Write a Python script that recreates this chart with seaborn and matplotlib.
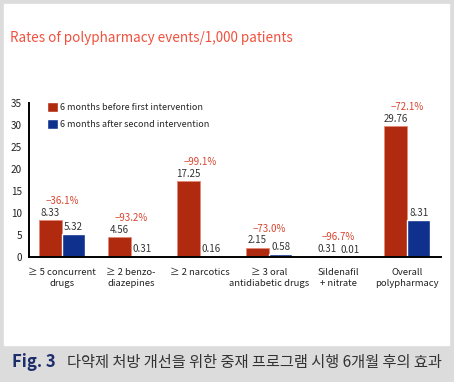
import numpy as np
import pandas as pd
import matplotlib.pyplot as plt
import seaborn as sns
from matplotlib.patches import Rectangle, Patch

# Data
categories = ["≥ 5 concurrent\ndrugs", "≥ 2 benzo-\ndiazepines", "≥ 2 narcotics",
              "≥ 3 oral\nantidiabetic drugs", "Sildenafil\n+ nitrate", "Overall\npolypharmacy"]
before = [8.33, 4.56, 17.25, 2.15, 0.31, 29.76]
after = [5.32, 0.31, 0.16, 0.58, 0.01, 8.31]
changes = ["−36.1%", "−93.2%", "−99.1%", "−73.0%", "−96.7%", "−72.1%"]
periods = ["6 months before first intervention", "6 months after second intervention"]
colors = ["#b02a10", "#10308e"]

df = pd.DataFrame({
    "category": categories * 2,
    "rate": before + after,
    "period": [periods[0]] * len(categories) + [periods[1]] * len(categories),
})

sns.set_style("white")
plt.rcParams["font.family"] = ["Noto Sans CJK KR", "DejaVu Sans"]

W, H = 454, 382
fig = plt.figure(figsize=(W / 100, H / 100), dpi=100, facecolor="#dcdcdc")
fig.patches.append(Rectangle((4 / W, 1 - 345 / H), 445 / W, 341 / H,
                             transform=fig.transFigure, color="white", zorder=-5))

ax = fig.add_axes([29 / W, (H - 257) / H, (441 - 29) / W, (257 - 103) / H])
ax.set_facecolor("none")
sns.barplot(data=df, x="category", y="rate", hue="period", order=categories,
            hue_order=periods, palette=colors, width=0.667, saturation=1,
            legend=False, ax=ax)

# thin light rim on the red bars, as in the original
for bar in ax.containers[0]:
    bar.set_edgecolor("#e58a78")
    bar.set_linewidth(0.6)

for cont, vals in zip(ax.containers, [before, after]):
    ax.bar_label(cont, labels=[f"{v:.2f}" for v in vals], padding=1.5,
                 fontsize=7, color="#333333")
for i, (b, c) in enumerate(zip(before, changes)):
    ax.text(i, b + 4.3, c, ha="center", va="center", fontsize=7,
            style="italic", color="#d8452f")

ax.set_ylim(0, 35)
ax.set_xlim(-0.478, 5.49)
ax.set_yticks(range(0, 36, 5))
ax.tick_params(axis="y", length=0, labelsize=7.2, colors="#222222", pad=5)
ax.tick_params(axis="x", length=0, labelsize=6.8, colors="#222222", pad=8)
ax.set_xlabel("")
ax.set_ylabel("")
for s in ["top", "right"]:
    ax.spines[s].set_visible(False)
for s in ["left", "bottom"]:
    ax.spines[s].set_color("black")
    ax.spines[s].set_linewidth(1.4)

handles = [Patch(facecolor=c) for c in colors]
ax.legend(handles, periods, loc="upper left", bbox_to_anchor=(47 / W, 1 - 102 / H),
          bbox_transform=fig.transFigure, frameon=False, fontsize=6.5,
          handlelength=1.25, handleheight=1.25, handletextpad=0.2,
          labelspacing=0.8, borderpad=0, borderaxespad=0)

fig.text(10 / W, 1 - 38 / H, "Rates of polypharmacy events/1,000 patients",
         color="#f0503c", fontsize=9.7, va="center")
fig.text(12 / W, 1 - 362 / H, "Fig. 3", color="#1e2d6b", fontsize=12,
         fontweight="bold", va="center")
fig.text(67 / W, 1 - 362 / H, "다약제 처방 개선을 위한 중재 프로그램 시행 6개월 후의 효과",
         color="#333333", fontsize=11, va="center")

fig.savefig("out.png", dpi=100, facecolor=fig.get_facecolor())
